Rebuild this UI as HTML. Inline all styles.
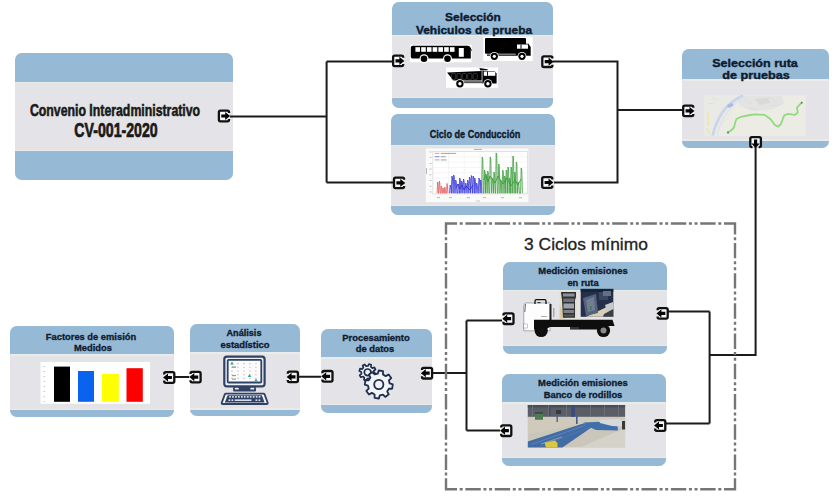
<!DOCTYPE html>
<html><head><meta charset="utf-8">
<style>
html,body{margin:0;padding:0;}
body{width:839px;height:503px;position:relative;overflow:hidden;background:#fff;font-family:"Liberation Sans",sans-serif;}
.bx{position:absolute;background:#e4e4e8;border-radius:7px;overflow:hidden;}
.bx .t,.bx .b{position:absolute;left:0;right:0;background:#96b9d6;}
.bx .t{top:0;}
.bx .b{bottom:0;}
.bx .hl{position:absolute;left:0;right:0;}
.ln{position:absolute;white-space:nowrap;font-weight:bold;transform-origin:50% 50%;-webkit-text-stroke:0.35px currentColor;}
svg{position:absolute;left:0;top:0;}
</style></head><body>
<div class="bx" style="left:15px;top:53px;width:217.5px;height:126.5px;border-radius:7px"><div class="t" style="height:28.5px"></div><div class="b" style="height:28.5px"></div><div class="hl" style="top:28.5px;height:1.5px;background:#e9ecee"></div><div class="hl" style="top:30.0px;height:2px;background:#e6e4e2"></div><div class="hl" style="bottom:28.5px;height:1.3px;background:#e8eaec"></div><div class="hl" style="bottom:29.8px;height:2px;background:#e6e3e2"></div></div>
<div class="bx" style="left:391.5px;top:2px;width:161.5px;height:106px;border-radius:7px"><div class="t" style="height:32.5px"></div><div class="b" style="height:10px"></div><div class="hl" style="top:32.5px;height:1.5px;background:#e9ecee"></div><div class="hl" style="top:34.0px;height:2px;background:#e6e4e2"></div><div class="hl" style="bottom:10px;height:1.3px;background:#e8eaec"></div><div class="hl" style="bottom:11.3px;height:2px;background:#e6e3e2"></div></div>
<div class="bx" style="left:390.5px;top:114px;width:164.5px;height:100.5px;border-radius:7px"><div class="t" style="height:30.5px"></div><div class="b" style="height:8.5px"></div><div class="hl" style="top:30.5px;height:1.5px;background:#e9ecee"></div><div class="hl" style="top:32.0px;height:2px;background:#e6e4e2"></div><div class="hl" style="bottom:8.5px;height:1.3px;background:#e8eaec"></div><div class="hl" style="bottom:9.8px;height:2px;background:#e6e3e2"></div></div>
<div class="bx" style="left:682px;top:48.5px;width:147px;height:99.5px;border-radius:7px"><div class="t" style="height:30.5px"></div><div class="b" style="height:7.5px"></div><div class="hl" style="top:30.5px;height:1.5px;background:#e9ecee"></div><div class="hl" style="top:32.0px;height:2px;background:#e6e4e2"></div><div class="hl" style="bottom:7.5px;height:1.3px;background:#e8eaec"></div><div class="hl" style="bottom:8.8px;height:2px;background:#e6e3e2"></div></div>
<div class="bx" style="left:502.5px;top:261.5px;width:164.5px;height:92px;border-radius:7px"><div class="t" style="height:28px"></div><div class="b" style="height:7.5px"></div><div class="hl" style="top:28px;height:1.5px;background:#e9ecee"></div><div class="hl" style="top:29.5px;height:2px;background:#e6e4e2"></div><div class="hl" style="bottom:7.5px;height:1.3px;background:#e8eaec"></div><div class="hl" style="bottom:8.8px;height:2px;background:#e6e3e2"></div></div>
<div class="bx" style="left:502px;top:374px;width:164px;height:91.6px;border-radius:7px"><div class="t" style="height:28px"></div><div class="b" style="height:7.4px"></div><div class="hl" style="top:28px;height:1.5px;background:#e9ecee"></div><div class="hl" style="top:29.5px;height:2px;background:#e6e4e2"></div><div class="hl" style="bottom:7.4px;height:1.3px;background:#e8eaec"></div><div class="hl" style="bottom:8.700000000000001px;height:2px;background:#e6e3e2"></div></div>
<div class="bx" style="left:321px;top:329px;width:110.5px;height:84px;border-radius:7px"><div class="t" style="height:28px"></div><div class="b" style="height:8px"></div><div class="hl" style="top:28px;height:1.5px;background:#e9ecee"></div><div class="hl" style="top:29.5px;height:2px;background:#e6e4e2"></div><div class="hl" style="bottom:8px;height:1.3px;background:#e8eaec"></div><div class="hl" style="bottom:9.3px;height:2px;background:#e6e3e2"></div></div>
<div class="bx" style="left:189.5px;top:324px;width:110.5px;height:92px;border-radius:7px"><div class="t" style="height:28px"></div><div class="b" style="height:6.5px"></div><div class="hl" style="top:28px;height:1.5px;background:#e9ecee"></div><div class="hl" style="top:29.5px;height:2px;background:#e6e4e2"></div><div class="hl" style="bottom:6.5px;height:1.3px;background:#e8eaec"></div><div class="hl" style="bottom:7.8px;height:2px;background:#e6e3e2"></div></div>
<div class="bx" style="left:10px;top:326px;width:164px;height:91px;border-radius:7px"><div class="t" style="height:28px"></div><div class="b" style="height:7px"></div><div class="hl" style="top:28px;height:1.5px;background:#e9ecee"></div><div class="hl" style="top:29.5px;height:2px;background:#e6e4e2"></div><div class="hl" style="bottom:7px;height:1.3px;background:#e8eaec"></div><div class="hl" style="bottom:8.3px;height:2px;background:#e6e3e2"></div></div>
<svg width="839" height="503" viewBox="0 0 839 503">
<rect x="410" y="44.7" width="61.7" height="17.5" fill="#fff"/>
<path d="M412.8,45.7 H467 L469.8,47.5 L470.8,50 V58.4 H412.3 Q410.8,58.4 410.8,56.8 V47.5 Q410.8,45.7 412.8,45.7 Z" fill="#000"/>
<path d="M466.5,46.2 L469.5,46.6 L471.5,50.5" fill="none" stroke="#000" stroke-width="1"/>
<rect x="415.40" y="47.2" width="4.6" height="4.6" fill="#fff"/>
<rect x="421.15" y="47.2" width="4.6" height="4.6" fill="#fff"/>
<rect x="426.90" y="47.2" width="4.6" height="4.6" fill="#fff"/>
<rect x="432.65" y="47.2" width="4.6" height="4.6" fill="#fff"/>
<rect x="438.40" y="47.2" width="4.6" height="4.6" fill="#fff"/>
<rect x="444.15" y="47.2" width="4.6" height="4.6" fill="#fff"/>
<rect x="449.90" y="47.2" width="4.6" height="4.6" fill="#fff"/>
<rect x="458.8" y="48" width="5" height="8.8" fill="#fff"/>
<circle cx="424" cy="58.8" r="4.5" fill="#fff"/><circle cx="424" cy="58.8" r="3.3" fill="#000"/>
<circle cx="447.5" cy="58.8" r="4.5" fill="#fff"/><circle cx="447.5" cy="58.8" r="3.3" fill="#000"/>
<rect x="483.3" y="36.7" width="49.4" height="24.3" fill="#fff"/>
<rect x="485" y="38" width="41" height="15.7" rx="1" fill="#000"/>
<path d="M515.7,43.7 H528.5 L530.7,47 V55.7 H515.7 Z" fill="#000"/>
<rect x="517" y="44.5" width="11" height="4.2" fill="#fff"/>
<rect x="520.5" y="44.5" width="1" height="4.2" fill="#000"/>
<rect x="487" y="54.3" width="29" height="1.7" fill="#444"/>
<circle cx="494.3" cy="56.3" r="4.4" fill="#fff"/><circle cx="494.3" cy="56.3" r="3.6" fill="#000"/><circle cx="494.3" cy="56.3" r="1.6" fill="#fff"/>
<circle cx="522" cy="56.3" r="4.4" fill="#fff"/><circle cx="522" cy="56.3" r="3.6" fill="#000"/><circle cx="522" cy="56.3" r="1.6" fill="#fff"/>
<rect x="446.1" y="67.5" width="51.9" height="20.3" fill="#fff"/>
<path d="M447.1,72.6 L481.7,70.9 V80.6 H453.4 Z" fill="#000"/>
<path d="M479.3,68.1 L487.6,69.2 V70.3 L480.5,70.5 Z" fill="#000"/>
<rect x="451.50" y="73.5" width="4.2" height="5.8" rx="1" fill="none" stroke="#555" stroke-width="0.6"/>
<rect x="456.90" y="73.5" width="4.2" height="5.8" rx="1" fill="none" stroke="#555" stroke-width="0.6"/>
<rect x="462.30" y="73.5" width="4.2" height="5.8" rx="1" fill="none" stroke="#555" stroke-width="0.6"/>
<rect x="467.70" y="73.5" width="4.2" height="5.8" rx="1" fill="none" stroke="#555" stroke-width="0.6"/>
<rect x="473.10" y="73.5" width="4.2" height="5.8" rx="1" fill="none" stroke="#555" stroke-width="0.6"/>
<path d="M482.4,70.9 H494.5 L496.6,73.5 V83.4 H482.4 Z" fill="#000"/>
<rect x="483.8" y="71.5" width="11.5" height="4.3" fill="#fff"/>
<rect x="487" y="71.5" width="0.9" height="4.3" fill="#000"/>
<rect x="456" y="81.2" width="27" height="2" fill="#555"/>
<circle cx="459.9" cy="83.7" r="4.5" fill="#fff"/><circle cx="459.9" cy="83.7" r="3.7" fill="#000"/><circle cx="459.9" cy="83.7" r="1.7" fill="#fff"/>
<circle cx="487.9" cy="83.7" r="4.5" fill="#fff"/><circle cx="487.9" cy="83.7" r="3.7" fill="#000"/><circle cx="487.9" cy="83.7" r="1.7" fill="#fff"/>
<rect x="425.8" y="148.4" width="102.6" height="53.8" fill="#fafafa"/>
<rect x="432.9" y="151.6" width="94.30000000000007" height="42.30000000000001" fill="#fff" stroke="#c8c8c8" stroke-width="0.5"/>
<line x1="448.6" y1="151.6" x2="448.6" y2="193.9" stroke="#ececec" stroke-width="0.5"/>
<line x1="464.3" y1="151.6" x2="464.3" y2="193.9" stroke="#ececec" stroke-width="0.5"/>
<line x1="480.1" y1="151.6" x2="480.1" y2="193.9" stroke="#ececec" stroke-width="0.5"/>
<line x1="495.8" y1="151.6" x2="495.8" y2="193.9" stroke="#ececec" stroke-width="0.5"/>
<line x1="511.5" y1="151.6" x2="511.5" y2="193.9" stroke="#ececec" stroke-width="0.5"/>
<line x1="432.9" y1="156.9" x2="527.2" y2="156.9" stroke="#ececec" stroke-width="0.5"/>
<line x1="432.9" y1="162.2" x2="527.2" y2="162.2" stroke="#ececec" stroke-width="0.5"/>
<line x1="432.9" y1="167.5" x2="527.2" y2="167.5" stroke="#ececec" stroke-width="0.5"/>
<line x1="432.9" y1="172.8" x2="527.2" y2="172.8" stroke="#ececec" stroke-width="0.5"/>
<line x1="432.9" y1="178.0" x2="527.2" y2="178.0" stroke="#ececec" stroke-width="0.5"/>
<line x1="432.9" y1="183.3" x2="527.2" y2="183.3" stroke="#ececec" stroke-width="0.5"/>
<line x1="432.9" y1="188.6" x2="527.2" y2="188.6" stroke="#ececec" stroke-width="0.5"/>
<rect x="429.5" y="151.6" width="2" height="0.7" fill="#aaa"/>
<rect x="429.5" y="157.3" width="2" height="0.7" fill="#aaa"/>
<rect x="429.5" y="163.0" width="2" height="0.7" fill="#aaa"/>
<rect x="429.5" y="168.7" width="2" height="0.7" fill="#aaa"/>
<rect x="429.5" y="174.5" width="2" height="0.7" fill="#aaa"/>
<rect x="429.5" y="180.2" width="2" height="0.7" fill="#aaa"/>
<rect x="429.5" y="185.9" width="2" height="0.7" fill="#aaa"/>
<rect x="429.5" y="191.6" width="2" height="0.7" fill="#aaa"/>
<rect x="437" y="197.3" width="3" height="0.8" fill="#aaa"/>
<rect x="449" y="197.3" width="3" height="0.8" fill="#aaa"/>
<rect x="467" y="197.3" width="3" height="0.8" fill="#aaa"/>
<rect x="483" y="197.3" width="3" height="0.8" fill="#aaa"/>
<rect x="501" y="197.3" width="3" height="0.8" fill="#aaa"/>
<rect x="519" y="197.3" width="3" height="0.8" fill="#aaa"/>
<rect x="426.3" y="168" width="0.7" height="6" fill="#999"/>
<rect x="474" y="148.9" width="8" height="0.8" fill="#999"/><rect x="476" y="200.6" width="4" height="0.8" fill="#bbb"/>
<path d="M437.1,193.2 L437.6,182.0 L438.0,184.0 L438.5,193.2 L438.9,193.2 L439.4,181.0 L439.8,183.0 L440.3,193.2 L440.8,193.2 L441.3,186.0 L441.7,188.0 L442.2,193.2 L442.5,193.2 L443.0,188.0 L443.4,190.0 L443.9,193.2 L444.3,193.2 L444.8,187.0 L445.2,189.0 L445.7,193.2 L446.5,193.2 L447.0,183.5 L447.4,185.5 L447.9,193.2" fill="none" stroke="#e05050" stroke-width="0.75" stroke-linejoin="round"/>
<path d="M449.6,193.2 L450.2,185.0 L450.8,187.0 L451.4,193.2 L451.3,193.2 L451.9,176.0 L452.5,178.0 L453.1,193.2 L453.1,193.2 L453.7,175.0 L454.3,177.0 L454.9,193.2 L455.1,193.2 L455.7,180.0 L456.3,182.0 L456.9,193.2 L457.6,193.2 L458.2,184.0 L458.8,186.0 L459.4,193.2 L459.1,193.2 L459.7,178.0 L460.3,180.0 L460.9,193.2 L461.1,193.2 L461.7,181.0 L462.3,183.0 L462.9,193.2 L462.9,193.2 L463.5,179.0 L464.1,181.0 L464.7,193.2 L465.1,193.2 L465.7,183.0 L466.3,185.0 L466.9,193.2 L467.1,193.2 L467.7,180.0 L468.3,182.0 L468.9,193.2 L468.9,193.2 L469.5,177.0 L470.1,179.0 L470.7,193.2 L470.7,193.2 L471.3,175.5 L471.9,177.5 L472.5,193.2 L472.6,193.2 L473.2,176.0 L473.8,178.0 L474.4,193.2 L474.1,193.2 L474.7,178.0 L475.3,180.0 L475.9,193.2 L476.1,193.2 L476.7,183.0 L477.3,185.0 L477.9,193.2 L478.3,193.2 L478.9,178.0 L479.5,180.0 L480.1,193.2 L480.1,193.2 L480.7,180.0 L481.3,182.0 L481.9,193.2" fill="none" stroke="#3434d8" stroke-width="0.8" stroke-linejoin="round"/>
<path d="M456,188 L458,184 L460,189 L462,185 L464,190 L466,186 L470,190 L473,185" fill="none" stroke="#3434d8" stroke-width="0.9"/>
<path d="M481.6,193.2 L482.2,157.0 L482.8,159.0 L483.4,193.2 L483.9,193.2 L484.5,170.0 L485.1,172.0 L485.7,193.2 L485.4,193.2 L486.0,176.0 L486.6,178.0 L487.2,193.2 L487.1,193.2 L487.7,171.0 L488.3,173.0 L488.9,193.2 L489.6,193.2 L490.2,157.0 L490.8,159.0 L491.4,193.2 L491.6,193.2 L492.2,178.0 L492.8,180.0 L493.4,193.2 L493.3,193.2 L493.9,172.0 L494.5,174.0 L495.1,193.2 L495.6,193.2 L496.2,153.0 L496.8,155.0 L497.4,193.2 L498.1,193.2 L498.7,164.0 L499.3,166.0 L499.9,193.2 L500.1,193.2 L500.7,180.0 L501.3,182.0 L501.9,193.2 L502.1,193.2 L502.7,170.0 L503.3,172.0 L503.9,193.2 L504.1,193.2 L504.7,176.0 L505.3,178.0 L505.9,193.2 L505.6,193.2 L506.2,170.0 L506.8,172.0 L507.4,193.2 L507.3,193.2 L507.9,167.0 L508.5,169.0 L509.1,193.2 L509.1,193.2 L509.7,178.0 L510.3,180.0 L510.9,193.2 L510.4,193.2 L511.0,167.0 L511.6,169.0 L512.2,193.2 L512.3,193.2 L512.9,156.0 L513.5,158.0 L514.1,193.2 L514.1,193.2 L514.7,172.0 L515.3,174.0 L515.9,193.2 L515.7,193.2 L516.3,162.0 L516.9,164.0 L517.5,193.2 L517.6,193.2 L518.2,182.0 L518.8,184.0 L519.4,193.2 L520.6,193.2 L521.2,168.0 L521.8,170.0 L522.4,193.2" fill="none" stroke="#3c9c3c" stroke-width="0.8" stroke-linejoin="round"/>
<path d="M484,180 L486,174 L488,182 L490,176 L495,183 L498,176 L503,184 L507,178 L511,186 L515,180 L518,185 L521,179" fill="none" stroke="#3c9c3c" stroke-width="0.9"/>
<g stroke-width="0.6"><line x1="434.7" y1="153.3" x2="439.5" y2="153.3" stroke="#e05050"/><line x1="434.7" y1="156.7" x2="439.5" y2="156.7" stroke="#3434d8"/><line x1="434.7" y1="159.9" x2="439.5" y2="159.9" stroke="#3c9c3c"/></g>
<g fill="#9a9a9a"><rect x="440.7" y="152.9" width="15.5" height="0.9"/><rect x="440.7" y="156.3" width="5" height="0.9"/><rect x="440.7" y="159.5" width="6" height="0.9"/></g>
<rect x="704.5" y="95.2" width="101.3" height="40.8" fill="#ecebe4"/>
<path d="M704.5,95.2 H760 Q740,98 733,110 Q724,124 716,136 H704.5 Z" fill="#e9e9e6"/>
<path d="M737,96 H782 L784,104 L770,110 L752,111 L740,106 Z" fill="#e3e3e1"/>
<path d="M755,99 L768,98 L770,103 L760,105 Z" fill="#d9d9d8"/>
<path d="M712,98 L718,100 M707,104 L715,103 M745,100 L752,104 M760,99 L772,98 L776,103 M770,106 L780,105 M748,108 L758,110" fill="none" stroke="#dcdcdc" stroke-width="0.8"/>
<path d="M708,112 L708.5,126 M707,128 L710,135" fill="none" stroke="#eee4a8" stroke-width="1.2"/>
<path d="M743,95.5 Q729,102 722,113 Q715,124 712.7,135.5" fill="none" stroke="#c9d5e8" stroke-width="2.6"/>
<path d="M747,95.5 Q733,103 726,114 Q719,124 717.5,135.5" fill="none" stroke="#dde3ec" stroke-width="1.2"/>
<ellipse cx="730.3" cy="105.4" rx="3.2" ry="1.8" fill="#a4bce6" transform="rotate(-25 730.3 105.4)"/>
<path d="M727.8,132.4 L731,130.5 L734,127.5 L735.2,122.5 L736.5,119 L741,116.8 L750,115 L755,114.4 L764.7,114.9 L770.6,119.3 L775,125.1 L778.4,126.6 L780.8,124.2 L784.2,115.4 L788.1,113.9 L794.9,114.9 L797.8,112.5 L796.9,107.6 L801.7,102.7" fill="none" stroke="#92da7f" stroke-width="1.8" stroke-linejoin="round" stroke-linecap="round"/>
<circle cx="728" cy="132.4" r="1.2" fill="#4fae6a"/><circle cx="801.7" cy="102.7" r="1" fill="#777"/>
<rect x="559.6" y="290.7" width="17.2" height="27.9" fill="#e4ddcc"/>
<path d="M559.6,305 L566,318.6 H559.6 Z" fill="#d8c9a0"/>
<path d="M561,292 H576 V297 L575,300 V317.8 H563 L562,300 Z" fill="#2e3034"/>
<rect x="563" y="293.5" width="11.5" height="3" fill="#8d9096"/>
<rect x="563.3" y="298.5" width="11" height="3.5" fill="#6e7278"/>
<rect x="563.5" y="303.5" width="10.5" height="5" fill="#9fa2a6"/>
<rect x="563.5" y="310" width="10.5" height="3" fill="#7d8085"/>
<rect x="563.5" y="314.5" width="10.5" height="2" fill="#55585d"/>
<rect x="580.7" y="288.9" width="32.6" height="27.9" fill="#243049"/>
<rect x="580.7" y="288.9" width="32.6" height="3" fill="#1a2236"/>
<path d="M586,316.8 L613.3,304 V316.8 Z" fill="#d9cfb6"/>
<path d="M605,305 L613,302 V310 L607,312 Z" fill="#c7c9cc"/>
<path d="M604,314 L613.3,309 V316.8 H603 Z" fill="#3a3f48"/>
<path d="M583,298 L596,294 L598,313 L586,316 Z" fill="#56637a"/>
<path d="M586,300 L594,297 L595,310 L588,312 Z" fill="#6f7d95"/>
<rect x="599" y="292" width="9" height="8" fill="#3b4862"/>
<rect x="603" y="291" width="8" height="5" fill="#62708a"/>
<rect x="590" y="306" width="1.5" height="4" fill="#3d7a4d"/>
<path d="M525.5,303 H550.2 V330.8 H523.8 V306 Q524,303 525.5,303 Z" fill="#fdfdfd" stroke="#666" stroke-width="0.5"/><path d="M525.5,304 L524.8,312" stroke="#444" stroke-width="0.8"/><rect x="541" y="316" width="6" height="0.7" fill="#888"/>
<path d="M535,304 V301 Q535,299.6 536.5,299.6 H544.6 Q546,299.6 546,301 V304" fill="none" stroke="#111" stroke-width="1.3"/><rect x="537.5" y="302" width="3" height="1.2" fill="#333"/>
<rect x="549.5" y="304" width="2" height="16" fill="#222"/>
<rect x="553" y="308" width="1.5" height="9" fill="#aaa"/>
<rect x="523.8" y="324" width="3.5" height="4" fill="#fff" stroke="#777" stroke-width="0.4"/>
<path d="M534,319.7 H612.5 L614.6,326 H605 L600,329.6 H570 V327 H550 L545,329.6 H534 Z" fill="#0e0e0e"/>
<rect x="570" y="327" width="9" height="2" fill="#333"/>
<circle cx="541.2" cy="330.5" r="6.6" fill="#0e0e0e"/><circle cx="541.2" cy="330.5" r="3" fill="#111"/>
<circle cx="603.5" cy="330.5" r="6.6" fill="#0e0e0e"/><circle cx="603.5" cy="330.5" r="3" fill="#8a8a8a"/>
<rect x="527.8" y="405.0" width="97.30000000000007" height="42.39999999999998" fill="#cbc6ba"/>
<path d="M580,447.4 L625.1,428 V447.4 Z" fill="#d5d2ca"/>
<path d="M527.8,416.5 H625.1 V421 Q600,420 560,428 L527.8,434 Z" fill="#d0cabd"/>
<rect x="527.8" y="405.0" width="97.30000000000007" height="11.8" fill="#5a5f67"/>
<rect x="527.8" y="405.0" width="97.30000000000007" height="2.5" fill="#4a4e56"/>
<rect x="532" y="405" width="0.8" height="11.8" fill="#70757c"/>
<rect x="548" y="405" width="0.8" height="11.8" fill="#70757c"/>
<rect x="566" y="405" width="0.8" height="11.8" fill="#70757c"/>
<rect x="590" y="405" width="0.8" height="11.8" fill="#70757c"/>
<rect x="604" y="405" width="0.8" height="11.8" fill="#70757c"/>
<rect x="618" y="405" width="0.8" height="11.8" fill="#70757c"/>
<rect x="571.2" y="405" width="3.8" height="11.8" fill="#3b4c78"/>
<rect x="549" y="405" width="1.6" height="11" fill="#434d6c"/>
<rect x="556.5" y="416" width="1.4" height="6" fill="#4c5f90"/><rect x="576" y="416" width="1.6" height="8" fill="#44598e"/>
<rect x="535" y="412.8" width="8" height="7" fill="#4b7d52"/><rect x="535" y="412.2" width="8" height="1.5" fill="#33443a"/>
<rect x="556" y="410" width="5" height="4" fill="#35383e"/>
<path d="M527.8,441.5 L583.9,423.2 L592.2,427 L562.4,447.4 H527.8 Z" fill="#416ca4"/>
<path d="M531,444.5 L585,425.5" stroke="#6286b8" stroke-width="0.9"/>
<path d="M540,446.8 L589,427.5" stroke="#5378ac" stroke-width="0.8"/>
<path d="M541,444 L562,437" stroke="#8b9bb0" stroke-width="1.2"/>
<path d="M583.5,422.6 L606,421.5 L617,423 L618,430.5 L596,430 L588,426.5 Z" fill="#4070ac"/>
<path d="M598.7,420 L618,419 L624.4,421 L624,426.6 L612,426 L600,423 Z" fill="#d6d8dc"/>
<rect x="622" y="421" width="3.1" height="8.5" fill="#3a3a3a"/>
<path d="M544.6,442.8 L555,440.5 L557.5,443 L557.5,447.4 H546 Z" fill="#dcc840"/>
<rect x="40.5" y="362" width="109.5" height="41.8" fill="#fff"/>
<rect x="43.5" y="366.0" width="1.6" height="0.8" fill="#bbb"/>
<rect x="43.5" y="371.1" width="1.6" height="0.8" fill="#bbb"/>
<rect x="43.5" y="376.1" width="1.6" height="0.8" fill="#bbb"/>
<rect x="43.5" y="381.1" width="1.6" height="0.8" fill="#bbb"/>
<rect x="43.5" y="386.2" width="1.6" height="0.8" fill="#bbb"/>
<rect x="43.5" y="391.2" width="1.6" height="0.8" fill="#bbb"/>
<rect x="43.5" y="396.3" width="1.6" height="0.8" fill="#bbb"/>
<rect x="43.5" y="401.4" width="1.6" height="0.8" fill="#bbb"/>
<rect x="54" y="366.6" width="16" height="35.2" fill="#000"/>
<rect x="78" y="371" width="16" height="30.8" fill="#0a63ee"/>
<rect x="102" y="373.9" width="16.8" height="27.9" fill="#ffff00"/>
<rect x="126.5" y="368.2" width="16.3" height="33.6" fill="#ff0000"/>
<rect x="224.3" y="356.7" width="40.3" height="29.6" rx="2.6" fill="#eef0f7" stroke="#2f4266" stroke-width="2.2"/>
<rect x="227.7" y="359.9" width="33.6" height="22.6" rx="1" fill="#fcfcfd" stroke="#2f4266" stroke-width="1.8"/>
<rect x="231.0" y="363.0" width="1.8" height="1.2" fill="#c8ccd4"/>
<rect x="237.0" y="363.0" width="1.8" height="1.2" fill="#c8ccd4"/>
<rect x="243.0" y="363.0" width="1.8" height="1.2" fill="#c8ccd4"/>
<rect x="249.0" y="363.0" width="1.8" height="1.2" fill="#b8dcd4"/>
<rect x="255.0" y="363.0" width="1.8" height="1.2" fill="#e0d8c8"/>
<rect x="231.0" y="366.7" width="1.8" height="1.2" fill="#b8dcd4"/>
<rect x="237.0" y="366.7" width="1.8" height="1.2" fill="#b8dcd4"/>
<rect x="243.0" y="366.7" width="1.8" height="1.2" fill="#f0c8d0"/>
<rect x="249.0" y="366.7" width="1.8" height="1.2" fill="#e0d8c8"/>
<rect x="255.0" y="366.7" width="1.8" height="1.2" fill="#f0c8d0"/>
<rect x="231.0" y="370.4" width="1.8" height="1.2" fill="#c8ccd4"/>
<rect x="237.0" y="370.4" width="1.8" height="1.2" fill="#f0c8d0"/>
<rect x="243.0" y="370.4" width="1.8" height="1.2" fill="#e0d8c8"/>
<rect x="249.0" y="370.4" width="1.8" height="1.2" fill="#ecd0b0"/>
<rect x="255.0" y="370.4" width="1.8" height="1.2" fill="#ecd0b0"/>
<rect x="231.0" y="374.1" width="1.8" height="1.2" fill="#f0c8d0"/>
<rect x="237.0" y="374.1" width="1.8" height="1.2" fill="#b8dcd4"/>
<rect x="243.0" y="374.1" width="1.8" height="1.2" fill="#f0c8d0"/>
<rect x="249.0" y="374.1" width="1.8" height="1.2" fill="#ecd0b0"/>
<rect x="255.0" y="374.1" width="1.8" height="1.2" fill="#f0c8d0"/>
<rect x="231.0" y="377.8" width="1.8" height="1.2" fill="#b8dcd4"/>
<rect x="237.0" y="377.8" width="1.8" height="1.2" fill="#c8ccd4"/>
<rect x="243.0" y="377.8" width="1.8" height="1.2" fill="#c8ccd4"/>
<rect x="249.0" y="377.8" width="1.8" height="1.2" fill="#b8dcd4"/>
<rect x="255.0" y="377.8" width="1.8" height="1.2" fill="#ecd0b0"/>
<path d="M232,361.5 L233.8,364.5 H230.2 Z" fill="#30a898"/><path d="M249.5,374 L251.3,377 H247.7 Z" fill="#30a898"/><path d="M256,378.5 L257.8,381.5 H254.2 Z" fill="#30a898"/>
<rect x="232" y="366.5" width="4" height="1.2" fill="#888"/><rect x="232" y="375" width="4" height="1.2" fill="#998"/><rect x="232" y="378.5" width="4" height="1.2" fill="#a98"/>
<rect x="233.1" y="387" width="22.9" height="4.4" rx="1.2" fill="#2f4266"/>
<rect x="234.8" y="387.8" width="4" height="1.8" rx="0.6" fill="#e6e9f2"/><rect x="250.3" y="387.8" width="4" height="1.8" rx="0.6" fill="#e6e9f2"/>
<path d="M226,393.6 H263.3 Q264.3,393.6 264.6,394.4 L267.6,402.6 Q268,404 266.6,404 H222.8 Q221.4,404 221.8,402.6 L224.8,394.4 Q225.1,393.6 226,393.6 Z" fill="#f2f4f8" stroke="#2f4266" stroke-width="1.8"/>
<path d="M227.6,395.3 H261.8 L264.6,402.4 H224.8 Z" fill="#2f4266"/>
<rect x="229.2" y="396" width="1.7" height="1.7" fill="#d9deea"/>
<rect x="232.1" y="396" width="1.7" height="1.7" fill="#d9deea"/>
<rect x="235.1" y="396" width="1.7" height="1.7" fill="#d9deea"/>
<rect x="238.0" y="396" width="1.7" height="1.7" fill="#d9deea"/>
<rect x="241.0" y="396" width="1.7" height="1.7" fill="#d9deea"/>
<rect x="243.9" y="396" width="1.7" height="1.7" fill="#d9deea"/>
<rect x="246.9" y="396" width="1.7" height="1.7" fill="#d9deea"/>
<rect x="249.8" y="396" width="1.7" height="1.7" fill="#d9deea"/>
<rect x="252.8" y="396" width="1.7" height="1.7" fill="#d9deea"/>
<rect x="255.8" y="396" width="1.7" height="1.7" fill="#d9deea"/>
<rect x="258.7" y="396" width="1.7" height="1.7" fill="#d9deea"/>
<rect x="228.5" y="399.4" width="1.8" height="1.6" fill="#d9deea"/>
<rect x="231.5" y="399.4" width="1.8" height="1.6" fill="#d9deea"/>
<rect x="255.5" y="399.4" width="1.8" height="1.6" fill="#d9deea"/>
<rect x="258.5" y="399.4" width="1.8" height="1.6" fill="#d9deea"/>
<rect x="234.7" y="399.4" width="16.8" height="1.6" fill="#d9deea"/>
<path d="M373.89,372.66 L375.89,373.63 L375.19,375.89 L372.99,375.56 L371.80,377.00 L372.53,379.10 L370.43,380.21 L369.11,378.42 L367.24,378.59 L366.27,380.59 L364.01,379.89 L364.34,377.69 L362.90,376.50 L360.80,377.23 L359.69,375.13 L361.48,373.81 L361.31,371.94 L359.31,370.97 L360.01,368.71 L362.21,369.04 L363.40,367.60 L362.67,365.50 L364.77,364.39 L366.09,366.18 L367.96,366.01 L368.93,364.01 L371.19,364.71 L370.86,366.91 L372.30,368.10 L374.40,367.37 L375.51,369.47 L373.72,370.79 Z" fill="#f3f4f8" stroke="#1e2e4c" stroke-width="1.7" stroke-linejoin="round"/><circle cx="367.6" cy="372.3" r="3.3" fill="#f3f4f8" stroke="#1e2e4c" stroke-width="1.7"/><path d="M389.65,383.48 L392.80,384.40 L392.15,388.73 L388.87,388.68 L387.19,391.45 L388.77,394.33 L385.24,396.93 L382.96,394.57 L379.82,395.35 L378.90,398.50 L374.57,397.85 L374.62,394.57 L371.85,392.89 L368.97,394.47 L366.37,390.94 L368.73,388.66 L367.95,385.52 L364.80,384.60 L365.45,380.27 L368.73,380.32 L370.41,377.55 L368.83,374.67 L372.36,372.07 L374.64,374.43 L377.78,373.65 L378.70,370.50 L383.03,371.15 L382.98,374.43 L385.75,376.11 L388.63,374.53 L391.23,378.06 L388.87,380.34 Z" fill="#f3f4f8" stroke="#1e2e4c" stroke-width="1.8" stroke-linejoin="round"/><circle cx="378.8" cy="384.5" r="4.6" fill="#f3f4f8" stroke="#1e2e4c" stroke-width="1.8"/>
<g fill="none" stroke="#1b1b1b" stroke-width="2">
 <path d="M230,116.4 H326.6 M326.6,61.6 V182.5 M326.6,61.6 H392 M326.6,182.5 H393"/>
 <path d="M552.5,61.6 H617.5 V182.6 H554 M617.5,110 H682"/>
 <path d="M755.6,147 V355 H709.6 M709.6,311.5 V423.4 M667,311.5 H709.6 M666,423.4 H709.6"/>
 <path d="M466.5,320.5 V430.5 M466.5,320.5 H502 M466.5,430.5 H500 M432,373 H466.5"/>
 <path d="M174.7,377 H189.3 M298,376.8 H321"/>
</g>
<path d="M444.80,223.5H457.00M444.80,489.3H457.00M459.70,223.5H462.70M459.70,489.3H462.70M465.40,223.5H480.80M465.40,489.3H480.80M483.45,223.5H486.45M483.45,489.3H486.45M489.10,223.5H492.10M489.10,489.3H492.10M494.75,223.5H510.15M494.75,489.3H510.15M512.80,223.5H515.80M512.80,489.3H515.80M518.45,223.5H521.45M518.45,489.3H521.45M524.10,223.5H539.50M524.10,489.3H539.50M542.15,223.5H545.15M542.15,489.3H545.15M547.80,223.5H550.80M547.80,489.3H550.80M553.45,223.5H568.85M553.45,489.3H568.85M571.50,223.5H574.50M571.50,489.3H574.50M577.15,223.5H580.15M577.15,489.3H580.15M582.80,223.5H598.20M582.80,489.3H598.20M600.85,223.5H603.85M600.85,489.3H603.85M606.50,223.5H609.50M606.50,489.3H609.50M612.15,223.5H627.55M612.15,489.3H627.55M630.20,223.5H633.20M630.20,489.3H633.20M635.85,223.5H638.85M635.85,489.3H638.85M641.50,223.5H656.90M641.50,489.3H656.90M659.55,223.5H662.55M659.55,489.3H662.55M665.20,223.5H668.20M665.20,489.3H668.20M670.85,223.5H686.25M670.85,489.3H686.25M688.90,223.5H691.90M688.90,489.3H691.90M694.55,223.5H697.55M694.55,489.3H697.55M700.20,223.5H715.60M700.20,489.3H715.60M718.30,223.5H721.30M718.30,489.3H721.30M724.00,223.5H736.20M724.00,489.3H736.20M446.0,223.50V234.50M735.0,223.50V234.50M446.0,237.20V240.20M735.0,237.20V240.20M446.0,242.90V258.30M735.0,242.90V258.30M446.0,261.24V264.24M735.0,261.24V264.24M446.0,267.19V270.19M735.0,267.19V270.19M446.0,273.13V288.53M735.0,273.13V288.53M446.0,291.47V294.47M735.0,291.47V294.47M446.0,297.41V300.41M735.0,297.41V300.41M446.0,303.36V318.76M735.0,303.36V318.76M446.0,321.70V324.70M735.0,321.70V324.70M446.0,327.64V330.64M735.0,327.64V330.64M446.0,333.59V348.99M735.0,333.59V348.99M446.0,351.93V354.93M735.0,351.93V354.93M446.0,357.87V360.87M735.0,357.87V360.87M446.0,363.81V379.21M735.0,363.81V379.21M446.0,382.16V385.16M735.0,382.16V385.16M446.0,388.10V391.10M735.0,388.10V391.10M446.0,394.04V409.44M735.0,394.04V409.44M446.0,412.39V415.39M735.0,412.39V415.39M446.0,418.33V421.33M735.0,418.33V421.33M446.0,424.27V439.67M735.0,424.27V439.67M446.0,442.61V445.61M735.0,442.61V445.61M446.0,448.56V451.56M735.0,448.56V451.56M446.0,454.50V469.90M735.0,454.50V469.90M446.0,472.60V475.60M735.0,472.60V475.60M446.0,478.30V489.30M735.0,478.30V489.30" fill="none" stroke="#767676" stroke-width="2.4"/>

<g transform="translate(217.7,109.5)"><rect x="1.2" y="1.2" width="10.1" height="10.6" rx="1.6" fill="#f7f7f7"/>
 <path d="M11.3,3.4 V2.8 Q11.3,1.2 9.7,1.2 H2.8 Q1.2,1.2 1.2,2.8 V10.2 Q1.2,11.8 2.8,11.8 H9.7 Q11.3,11.8 11.3,10.2 V9.6" fill="none" stroke="#111" stroke-width="2.3"/>
 <path d="M3.6,4.9 H7.5 V2.4 L12.4,6.5 L7.5,10.6 V8.1 H3.6 Z" fill="#050505"/></g>
<g transform="translate(391.9,54.4)"><rect x="1.2" y="1.2" width="10.1" height="10.6" rx="1.6" fill="#f7f7f7"/>
 <path d="M11.3,3.4 V2.8 Q11.3,1.2 9.7,1.2 H2.8 Q1.2,1.2 1.2,2.8 V10.2 Q1.2,11.8 2.8,11.8 H9.7 Q11.3,11.8 11.3,10.2 V9.6" fill="none" stroke="#111" stroke-width="2.3"/>
 <path d="M3.6,4.9 H7.5 V2.4 L12.4,6.5 L7.5,10.6 V8.1 H3.6 Z" fill="#050505"/></g>
<g transform="translate(541.1,55.2)"><rect x="1.2" y="1.2" width="10.1" height="10.6" rx="1.6" fill="#f7f7f7"/>
 <path d="M11.3,3.4 V2.8 Q11.3,1.2 9.7,1.2 H2.8 Q1.2,1.2 1.2,2.8 V10.2 Q1.2,11.8 2.8,11.8 H9.7 Q11.3,11.8 11.3,10.2 V9.6" fill="none" stroke="#111" stroke-width="2.3"/>
 <path d="M3.6,4.9 H7.5 V2.4 L12.4,6.5 L7.5,10.6 V8.1 H3.6 Z" fill="#050505"/></g>
<g transform="translate(392.8,176.4)"><rect x="1.2" y="1.2" width="10.1" height="10.6" rx="1.6" fill="#f7f7f7"/>
 <path d="M11.3,3.4 V2.8 Q11.3,1.2 9.7,1.2 H2.8 Q1.2,1.2 1.2,2.8 V10.2 Q1.2,11.8 2.8,11.8 H9.7 Q11.3,11.8 11.3,10.2 V9.6" fill="none" stroke="#111" stroke-width="2.3"/>
 <path d="M3.6,4.9 H7.5 V2.4 L12.4,6.5 L7.5,10.6 V8.1 H3.6 Z" fill="#050505"/></g>
<g transform="translate(541,176)"><rect x="1.2" y="1.2" width="10.1" height="10.6" rx="1.6" fill="#f7f7f7"/>
 <path d="M11.3,3.4 V2.8 Q11.3,1.2 9.7,1.2 H2.8 Q1.2,1.2 1.2,2.8 V10.2 Q1.2,11.8 2.8,11.8 H9.7 Q11.3,11.8 11.3,10.2 V9.6" fill="none" stroke="#111" stroke-width="2.3"/>
 <path d="M3.6,4.9 H7.5 V2.4 L12.4,6.5 L7.5,10.6 V8.1 H3.6 Z" fill="#050505"/></g>
<g transform="translate(682,104.4)"><rect x="1.2" y="1.2" width="10.1" height="10.6" rx="1.6" fill="#f7f7f7"/>
 <path d="M11.3,3.4 V2.8 Q11.3,1.2 9.7,1.2 H2.8 Q1.2,1.2 1.2,2.8 V10.2 Q1.2,11.8 2.8,11.8 H9.7 Q11.3,11.8 11.3,10.2 V9.6" fill="none" stroke="#111" stroke-width="2.3"/>
 <path d="M3.6,4.9 H7.5 V2.4 L12.4,6.5 L7.5,10.6 V8.1 H3.6 Z" fill="#050505"/></g>
<g transform="translate(749.1,135.9)"><rect x="1.2" y="1.2" width="10.6" height="10.1" rx="1.6" fill="#f7f7f7"/>
 <path d="M3.4,11.3 H2.8 Q1.2,11.3 1.2,9.7 V2.8 Q1.2,1.2 2.8,1.2 H10.2 Q11.8,1.2 11.8,2.8 V9.7 Q11.8,11.3 10.2,11.3 H9.6" fill="none" stroke="#111" stroke-width="2.3"/>
 <path d="M4.9,3.6 V7.5 H2.4 L6.5,12.4 L10.6,7.5 H8.1 V3.6 Z" fill="#050505"/></g>
<g transform="translate(656.4,306.9)"><rect x="1.2" y="1.2" width="10.1" height="10.6" rx="1.6" fill="#f7f7f7"/>
 <path d="M1.2,3.4 V2.8 Q1.2,1.2 2.8,1.2 H9.7 Q11.3,1.2 11.3,2.8 V10.2 Q11.3,11.8 9.7,11.8 H2.8 Q1.2,11.8 1.2,10.2 V9.6" fill="none" stroke="#111" stroke-width="2.3"/>
 <path d="M8.9,4.9 H5.0 V2.4 L0.1,6.5 L5.0,10.6 V8.1 H8.9 Z" fill="#050505"/></g>
<g transform="translate(654,419)"><rect x="1.2" y="1.2" width="10.1" height="10.6" rx="1.6" fill="#f7f7f7"/>
 <path d="M1.2,3.4 V2.8 Q1.2,1.2 2.8,1.2 H9.7 Q11.3,1.2 11.3,2.8 V10.2 Q11.3,11.8 9.7,11.8 H2.8 Q1.2,11.8 1.2,10.2 V9.6" fill="none" stroke="#111" stroke-width="2.3"/>
 <path d="M8.9,4.9 H5.0 V2.4 L0.1,6.5 L5.0,10.6 V8.1 H8.9 Z" fill="#050505"/></g>
<g transform="translate(502.2,312.2)"><rect x="1.2" y="1.2" width="10.1" height="10.6" rx="1.6" fill="#f7f7f7"/>
 <path d="M1.2,3.4 V2.8 Q1.2,1.2 2.8,1.2 H9.7 Q11.3,1.2 11.3,2.8 V10.2 Q11.3,11.8 9.7,11.8 H2.8 Q1.2,11.8 1.2,10.2 V9.6" fill="none" stroke="#111" stroke-width="2.3"/>
 <path d="M8.9,4.9 H5.0 V2.4 L0.1,6.5 L5.0,10.6 V8.1 H8.9 Z" fill="#050505"/></g>
<g transform="translate(500,424.2)"><rect x="1.2" y="1.2" width="10.1" height="10.6" rx="1.6" fill="#f7f7f7"/>
 <path d="M1.2,3.4 V2.8 Q1.2,1.2 2.8,1.2 H9.7 Q11.3,1.2 11.3,2.8 V10.2 Q11.3,11.8 9.7,11.8 H2.8 Q1.2,11.8 1.2,10.2 V9.6" fill="none" stroke="#111" stroke-width="2.3"/>
 <path d="M8.9,4.9 H5.0 V2.4 L0.1,6.5 L5.0,10.6 V8.1 H8.9 Z" fill="#050505"/></g>
<g transform="translate(420.8,366.7)"><rect x="1.2" y="1.2" width="10.1" height="10.6" rx="1.6" fill="#f7f7f7"/>
 <path d="M1.2,3.4 V2.8 Q1.2,1.2 2.8,1.2 H9.7 Q11.3,1.2 11.3,2.8 V10.2 Q11.3,11.8 9.7,11.8 H2.8 Q1.2,11.8 1.2,10.2 V9.6" fill="none" stroke="#111" stroke-width="2.3"/>
 <path d="M8.9,4.9 H5.0 V2.4 L0.1,6.5 L5.0,10.6 V8.1 H8.9 Z" fill="#050505"/></g>
<g transform="translate(321.2,369.8)"><rect x="1.2" y="1.2" width="10.1" height="10.6" rx="1.6" fill="#f7f7f7"/>
 <path d="M1.2,3.4 V2.8 Q1.2,1.2 2.8,1.2 H9.7 Q11.3,1.2 11.3,2.8 V10.2 Q11.3,11.8 9.7,11.8 H2.8 Q1.2,11.8 1.2,10.2 V9.6" fill="none" stroke="#111" stroke-width="2.3"/>
 <path d="M8.9,4.9 H5.0 V2.4 L0.1,6.5 L5.0,10.6 V8.1 H8.9 Z" fill="#050505"/></g>
<g transform="translate(286.6,370.4)"><rect x="1.2" y="1.2" width="10.1" height="10.6" rx="1.6" fill="#f7f7f7"/>
 <path d="M1.2,3.4 V2.8 Q1.2,1.2 2.8,1.2 H9.7 Q11.3,1.2 11.3,2.8 V10.2 Q11.3,11.8 9.7,11.8 H2.8 Q1.2,11.8 1.2,10.2 V9.6" fill="none" stroke="#111" stroke-width="2.3"/>
 <path d="M8.9,4.9 H5.0 V2.4 L0.1,6.5 L5.0,10.6 V8.1 H8.9 Z" fill="#050505"/></g>
<g transform="translate(189.3,370.6)"><rect x="1.2" y="1.2" width="10.1" height="10.6" rx="1.6" fill="#f7f7f7"/>
 <path d="M1.2,3.4 V2.8 Q1.2,1.2 2.8,1.2 H9.7 Q11.3,1.2 11.3,2.8 V10.2 Q11.3,11.8 9.7,11.8 H2.8 Q1.2,11.8 1.2,10.2 V9.6" fill="none" stroke="#111" stroke-width="2.3"/>
 <path d="M8.9,4.9 H5.0 V2.4 L0.1,6.5 L5.0,10.6 V8.1 H8.9 Z" fill="#050505"/></g>
<g transform="translate(163,371)"><rect x="1.2" y="1.2" width="10.1" height="10.6" rx="1.6" fill="#f7f7f7"/>
 <path d="M1.2,3.4 V2.8 Q1.2,1.2 2.8,1.2 H9.7 Q11.3,1.2 11.3,2.8 V10.2 Q11.3,11.8 9.7,11.8 H2.8 Q1.2,11.8 1.2,10.2 V9.6" fill="none" stroke="#111" stroke-width="2.3"/>
 <path d="M8.9,4.9 H5.0 V2.4 L0.1,6.5 L5.0,10.6 V8.1 H8.9 Z" fill="#050505"/></g>
</svg>
<div class="ln" style="left:114.75px;top:101.60px;font-size:17.4px;line-height:17.4px;color:#1a1a1a;font-weight:bold;-webkit-text-stroke:0.63px #1a1a1a;transform:translateX(-50%) scaleX(0.7075)">Convenio Interadministrativo</div>
<div class="ln" style="left:115.69999999999996px;top:120.21px;font-size:20.3px;line-height:20.3px;color:#1a1a1a;font-weight:bold;-webkit-text-stroke:0.73px #1a1a1a;transform:translateX(-50%) scaleX(0.697)">CV-001-2020</div>
<div class="ln" style="left:472.79999999999984px;top:11.71px;font-size:10.6px;line-height:10.6px;color:#0f1c30;font-weight:bold;-webkit-text-stroke:0.38px #0f1c30;transform:translateX(-50%) scaleX(1.1283)">Selección</div>
<div class="ln" style="left:473.5999999999997px;top:25.21px;font-size:10.6px;line-height:10.6px;color:#0f1c30;font-weight:bold;-webkit-text-stroke:0.38px #0f1c30;transform:translateX(-50%) scaleX(1.1281)">Vehiculos de prueba</div>
<div class="ln" style="left:475.29999999999984px;top:129.21px;font-size:10.5px;line-height:10.5px;color:#0f1c30;font-weight:bold;-webkit-text-stroke:0.38px #0f1c30;transform:translateX(-50%) scaleX(0.8679)">Ciclo de Conducción</div>
<div class="ln" style="left:755.25px;top:58.80px;font-size:10.3px;line-height:10.3px;color:#0f1c30;font-weight:bold;-webkit-text-stroke:0.37px #0f1c30;transform:translateX(-50%) scaleX(1.2156)">Selección ruta</div>
<div class="ln" style="left:755.7999999999998px;top:71.00px;font-size:10.3px;line-height:10.3px;color:#0f1c30;font-weight:bold;-webkit-text-stroke:0.37px #0f1c30;transform:translateX(-50%) scaleX(1.2268)">de pruebas</div>
<div class="ln" style="left:583.1500000000003px;top:266.91px;font-size:9.3px;line-height:9.3px;color:#0f1c30;font-weight:bold;-webkit-text-stroke:0.33px #0f1c30;transform:translateX(-50%) scaleX(1.0104)">Medición emisiones</div>
<div class="ln" style="left:583.3499999999997px;top:278.61px;font-size:9.3px;line-height:9.3px;color:#0f1c30;font-weight:bold;-webkit-text-stroke:0.33px #0f1c30;transform:translateX(-50%) scaleX(1.0067)">en ruta</div>
<div class="ln" style="left:583.0999999999997px;top:379.00px;font-size:9.3px;line-height:9.3px;color:#0f1c30;font-weight:bold;-webkit-text-stroke:0.33px #0f1c30;transform:translateX(-50%) scaleX(1.016)">Medición emisiones</div>
<div class="ln" style="left:582.5500000000006px;top:390.81px;font-size:9.3px;line-height:9.3px;color:#0f1c30;font-weight:bold;-webkit-text-stroke:0.33px #0f1c30;transform:translateX(-50%) scaleX(1.0087)">Banco de rodillos</div>
<div class="ln" style="left:91.15000000000002px;top:331.60px;font-size:9.5px;line-height:9.5px;color:#0f1c30;font-weight:bold;-webkit-text-stroke:0.34px #0f1c30;transform:translateX(-50%) scaleX(0.983)">Factores de emisión</div>
<div class="ln" style="left:93.19999999999996px;top:342.90px;font-size:9.5px;line-height:9.5px;color:#0f1c30;font-weight:bold;-webkit-text-stroke:0.34px #0f1c30;transform:translateX(-50%) scaleX(0.9818)">Medidos</div>
<div class="ln" style="left:243.5px;top:329.21px;font-size:9.2px;line-height:9.2px;color:#0f1c30;font-weight:bold;-webkit-text-stroke:0.33px #0f1c30;transform:translateX(-50%) scaleX(0.992)">Análisis</div>
<div class="ln" style="left:244.5px;top:340.81px;font-size:9.2px;line-height:9.2px;color:#0f1c30;font-weight:bold;-webkit-text-stroke:0.33px #0f1c30;transform:translateX(-50%) scaleX(1.0206)">estadístico</div>
<div class="ln" style="left:376.29999999999984px;top:333.60px;font-size:9.2px;line-height:9.2px;color:#0f1c30;font-weight:bold;-webkit-text-stroke:0.33px #0f1c30;transform:translateX(-50%) scaleX(1.022)">Procesamiento</div>
<div class="ln" style="left:375.25px;top:345.10px;font-size:9.2px;line-height:9.2px;color:#0f1c30;font-weight:bold;-webkit-text-stroke:0.33px #0f1c30;transform:translateX(-50%) scaleX(1.0236)">de datos</div>
<div class="ln" style="left:586.0px;top:236.61px;font-size:16px;line-height:16px;color:#222222;font-weight:normal;-webkit-text-stroke:0.3px #222222;transform:translateX(-50%) scaleX(1.0876)">3 Ciclos mínimo</div>
</body></html>
